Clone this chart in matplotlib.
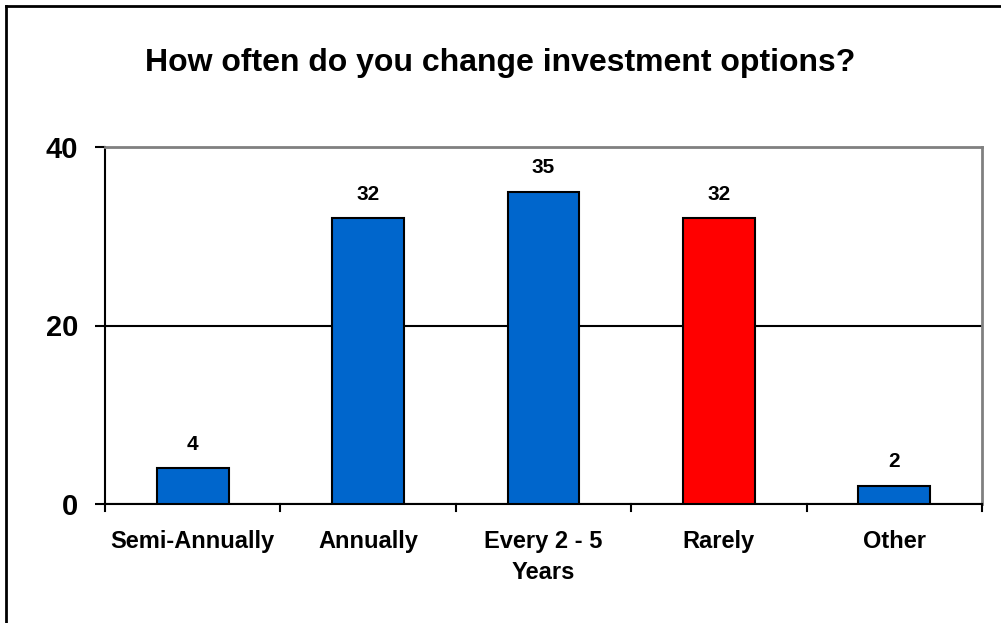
import matplotlib
matplotlib.use("Agg")
import matplotlib.pyplot as plt
from matplotlib.lines import Line2D

categories = ["Semi-Annually", "Annually", "Every 2 - 5\nYears", "Rarely", "Other"]
values = [4, 32, 35, 32, 2]
bar_colors = ["#0066CC", "#0066CC", "#0066CC", "#FF0000", "#0066CC"]
y_ticks = [0, 20, 40]
title = "How often do you change investment options?"

plt.rcParams["font.family"] = ["Liberation Sans", "DejaVu Sans"]

W, H = 1001, 623
fig = plt.figure(figsize=(W / 100, H / 100), dpi=100)

# plot area in pixel coordinates
left, right, top, bottom = 105, 982, 147, 504
ax = fig.add_axes([left / W, 1 - bottom / H, (right - left) / W, (bottom - top) / H])

x = list(range(len(categories)))
ax.bar(x, values, width=0.41, color=bar_colors, edgecolor="black", linewidth=1.5, zorder=3)

for xi, v in zip(x, values):
    ax.annotate(str(v), (xi, v), xytext=(0, 13.5), textcoords="offset points",
                ha="center", va="baseline", fontsize=15, fontweight="bold", zorder=4)

ax.set_xlim(-0.5, len(categories) - 0.5)
ax.set_ylim(0, 40)
ax.set_yticks(y_ticks)
ax.set_yticklabels([str(t) for t in y_ticks], fontsize=21, fontweight="bold")
ax.tick_params(axis="y", direction="out", length=7.5, width=1.5, pad=12)

# category labels centred under bars, ticks on category boundaries
ax.set_xticks(x)
ax.set_xticklabels(categories, fontsize=17, fontweight="bold", linespacing=1.45)
ax.tick_params(axis="x", length=0, pad=19)
for b in [i - 0.5 for i in range(len(categories) + 1)]:
    ax.plot([b, b], [0, -0.8], color="black", lw=1.5, clip_on=False, zorder=5)

ax.yaxis.grid(True, color="black", linewidth=1.5, zorder=1)
ax.set_axisbelow(True)

for side in ("top", "right"):
    ax.spines[side].set_color("#808080")
    ax.spines[side].set_linewidth(2)
for side in ("left", "bottom"):
    ax.spines[side].set_color("black")
    ax.spines[side].set_linewidth(1.5)

fig.text(0.5, 1 - 63 / H, title, ha="center", va="center", fontsize=23, fontweight="bold")

# outer frame (left and top edges)
fig.add_artist(Line2D([6 / W, 6 / W], [0, 1 - 6 / H], transform=fig.transFigure, color="black", lw=2))
fig.add_artist(Line2D([6 / W, 1], [1 - 6 / H, 1 - 6 / H], transform=fig.transFigure, color="black", lw=2))

fig.savefig("out.png", dpi=100)
